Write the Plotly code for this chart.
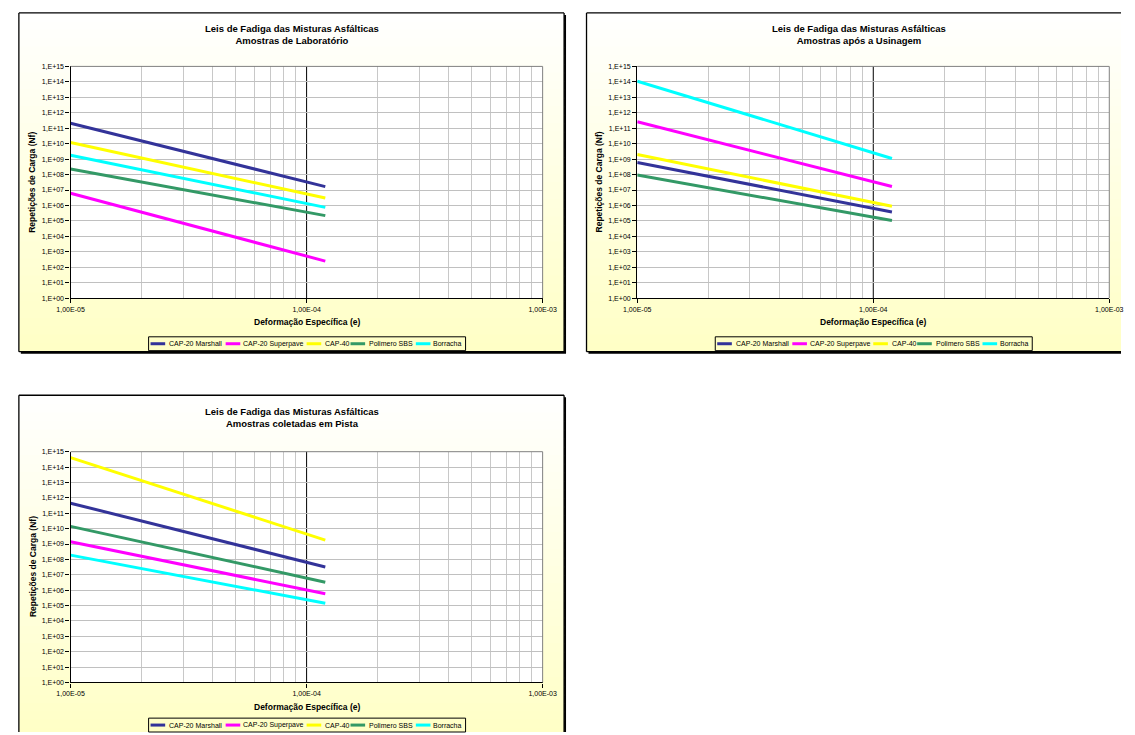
import plotly.graph_objects as go

# ---------------- data ----------------
strain = [1.0e-5, 1.2e-4]
series_names = ["CAP-20 Marshall", "CAP-20 Superpave", "CAP-40", "Polimero SBS", "Borracha"]
series_colors = ["#333399", "#FF00FF", "#FFFF00", "#339966", "#00FFFF"]

chart_titles = [
    "Leis de Fadiga das Misturas Asfálticas<br>Amostras de Laboratório",
    "Leis de Fadiga das Misturas Asfálticas<br>Amostras após a Usinagem",
    "Leis de Fadiga das Misturas Asfálticas<br>Amostras coletadas em Pista",
]
x_title = "Deformação Específica (e)"
y_title = "Repetições de Carga (Nf)"

# Nf at strain[0] and strain[1]
lab_marshall = [2.1e11, 1.66e7]
lab_superpave = [6.2e6, 2.5e2]
lab_cap40 = [1.2e10, 3.0e6]
lab_sbs = [2.3e8, 2.2e5]
lab_borracha = [1.8e9, 7.5e5]

usi_marshall = [6.0e8, 3.8e5]
usi_superpave = [2.6e11, 1.7e7]
usi_cap40 = [2.0e9, 8.8e5]
usi_sbs = [9.3e7, 1.07e5]
usi_borracha = [1.1e14, 1.1e9]

pista_marshall = [4.5e11, 3.2e7]
pista_superpave = [1.4e9, 5.8e5]
pista_cap40 = [4.1e14, 1.8e9]
pista_sbs = [1.4e10, 3.3e6]
pista_borracha = [1.9e8, 1.4e5]

y_tickvals = [1e0, 1e1, 1e2, 1e3, 1e4, 1e5, 1e6, 1e7, 1e8, 1e9, 1e10, 1e11, 1e12, 1e13, 1e14, 1e15]
y_ticktext = ["1,E+00", "1,E+01", "1,E+02", "1,E+03", "1,E+04", "1,E+05", "1,E+06", "1,E+07",
              "1,E+08", "1,E+09", "1,E+10", "1,E+11", "1,E+12", "1,E+13", "1,E+14", "1,E+15"]
x_tickvals = [1e-5, 1e-4, 1e-3]
x_ticktext = ["1,00E-05", "1,00E-04", "1,00E-03"]
x_minor = [m * 10.0 ** e for e in (-5, -4) for m in range(2, 10)]
x_major_grid = 1e-4

charts = [
    [lab_marshall, lab_superpave, lab_cap40, lab_sbs, lab_borracha],
    [usi_marshall, usi_superpave, usi_cap40, usi_sbs, usi_borracha],
    [pista_marshall, pista_superpave, pista_cap40, pista_sbs, pista_borracha],
]

# ---------------- layout geometry (pixels) ----------------
W, H = 1135, 735
FONT = "Liberation Sans"


def px(x):
    return min(max(x, 0), W) / W


def py(y):
    return 1 - min(max(y, 0), H) / H


frames = [(5, 9, 564, 351), (587, 9, 1150, 351), (5, 395, 564, 740)]
plots = [(58, 63, 542, 297), (639, 63, 1123, 297), (58, 452, 542, 685)]

fig = go.Figure()
shapes = []
annotations = []

for ci, (fx0, fy0, fx1, fy1) in enumerate(frames):
    # shadow (right / bottom)
    shapes.append(dict(type="rect", xref="paper", yref="paper", layer="below",
                       x0=px(fx0 + 2), x1=px(fx1 + 2), y0=py(fy1 + 2), y1=py(fy0 + 2),
                       fillcolor="#000000", line=dict(width=0)))
    # gradient background (white -> pale yellow)
    n = 40
    for k in range(n):
        ya = fy0 + (fy1 - fy0) * k / n
        yb = min(fy0 + (fy1 - fy0) * (k + 1) / n + 1.5, fy1)
        t = (k + 0.5) / n
        b = round(255 - 58 * t)
        shapes.append(dict(type="rect", xref="paper", yref="paper", layer="below",
                           x0=px(fx0), x1=px(fx1), y0=py(yb), y1=py(ya),
                           fillcolor=f"rgb(255,255,{b})", line=dict(width=0)))
    # frame border, only the edges that lie inside the page
    pts = [(fx0, fy1), (fx0, fy0), (fx1, fy0), (fx1, fy1), (fx0, fy1)]
    for (ax_, ay_), (bx_, by_) in zip(pts[:-1], pts[1:]):
        if (ax_ == bx_ and ax_ > W) or (ay_ == by_ and ay_ > H):
            continue
        shapes.append(dict(type="line", xref="paper", yref="paper", layer="below",
                           x0=px(ax_), x1=px(bx_), y0=py(ay_), y1=py(by_),
                           line=dict(color="#000000", width=1.3)))

for ci, (x0, y0, x1, y1) in enumerate(plots):
    shapes.append(dict(type="rect", xref="paper", yref="paper", layer="below",
                       x0=px(x0), x1=px(x1), y0=py(y1), y1=py(y0),
                       fillcolor="#FFFFFF", line=dict(width=0)))
    # grey top and right border of the plot area
    shapes.append(dict(type="path", xref="paper", yref="paper", layer="above",
                       path=f"M {px(x0)} {py(y0)} L {px(x1)} {py(y0)} L {px(x1)} {py(y1)}",
                       line=dict(color="#808080", width=1)))

title_pos = [(285, 31), (866, 31), (285, 417)]
xtitle_pos = [(300, 321), (881, 321), (300, 710)]
ytitle_pos = [(19, 180), (600, 180), (19, 568)]
legend_pos = [(138, 336), (719, 336), (138, 721)]   # legend box top-left
legend_w, legend_h = 325, 14
legend_line_dx = [2, 79, 162, 207, 274]     # start of sample line inside box
legend_text_dx = [19, 95, 179, 224, 290]    # start of label inside box

for ci, data in enumerate(charts):
    xa = "x" if ci == 0 else f"x{ci + 1}"
    ya = "y" if ci == 0 else f"y{ci + 1}"
    for si, vals in enumerate(data):
        fig.add_trace(go.Scatter(
            x=strain, y=vals, mode="lines", name=series_names[si],
            line=dict(color=series_colors[si], width=3),
            xaxis=xa, yaxis=ya, showlegend=False,
        ))
    x0, y0, x1, y1 = plots[ci]
    axkey = "xaxis" if ci == 0 else f"xaxis{ci + 1}"
    aykey = "yaxis" if ci == 0 else f"yaxis{ci + 1}"
    fig.layout[axkey] = dict(
        type="log", range=[-5, -3], domain=[px(x0), px(x1)], anchor=ya,
        tickvals=x_tickvals, ticktext=x_ticktext, ticks="outside", ticklen=4,
        tickcolor="#000000", showline=True, linecolor="#000000", linewidth=1.3,
        showgrid=False,
        minor=dict(tickvals=x_minor, showgrid=True, gridcolor="#C8C8C8", gridwidth=1, ticks=""),
        tickfont=dict(family=FONT, size=7, color="#000000"), zeroline=False, fixedrange=True,
    )
    fig.layout[aykey] = dict(
        type="log", range=[0, 15], domain=[py(y1), py(y0)], anchor=xa,
        tickvals=y_tickvals, ticktext=y_ticktext, ticks="outside", ticklen=4,
        tickcolor="#000000", showline=True, linecolor="#000000", linewidth=1.3,
        showgrid=True, gridcolor="#C0C0C0", gridwidth=1,
        tickfont=dict(family=FONT, size=7, color="#000000"), zeroline=False, fixedrange=True,
    )
    # major vertical gridline (1,00E-04) in black
    shapes.append(dict(type="line", xref=xa, yref="paper", layer="between",
                       x0=x_major_grid, x1=x_major_grid, y0=py(y1), y1=py(y0),
                       line=dict(color="#000000", width=1)))

    # legend (box, sample lines, labels)
    lx, ly = legend_pos[ci]
    shapes.append(dict(type="rect", xref="paper", yref="paper", layer="above",
                       x0=px(lx), x1=px(lx + legend_w), y0=py(ly + legend_h), y1=py(ly),
                       fillcolor="rgba(0,0,0,0)", line=dict(color="#000000", width=1)))
    for si in range(len(series_names)):
        sx = lx + legend_line_dx[si]
        shapes.append(dict(type="line", xref="paper", yref="paper", layer="above",
                           x0=px(sx), x1=px(sx + 15), y0=py(ly + legend_h / 2), y1=py(ly + legend_h / 2),
                           line=dict(color=series_colors[si], width=3)))
        annotations.append(dict(text=series_names[si], x=px(lx + legend_text_dx[si]), y=py(ly + legend_h / 2),
                                xref="paper", yref="paper", showarrow=False,
                                xanchor="left", yanchor="middle",
                                font=dict(family=FONT, size=7, color="#000000")))

    tx, ty = title_pos[ci]
    annotations.append(dict(text=f"<b>{chart_titles[ci]}</b>", x=px(tx), y=py(ty),
                            xref="paper", yref="paper", showarrow=False,
                            xanchor="center", yanchor="middle",
                            font=dict(family=FONT, size=9.5, color="#000000")))
    xx, xy = xtitle_pos[ci]
    annotations.append(dict(text=f"<b>{x_title}</b>", x=px(xx), y=py(xy),
                            xref="paper", yref="paper", showarrow=False,
                            xanchor="center", yanchor="middle",
                            font=dict(family=FONT, size=8.5, color="#000000")))
    yx, yy = ytitle_pos[ci]
    annotations.append(dict(text=f"<b>{y_title}</b>", x=px(yx), y=py(yy), textangle=-90,
                            xref="paper", yref="paper", showarrow=False,
                            xanchor="center", yanchor="middle",
                            font=dict(family=FONT, size=8.5, color="#000000")))

fig.update_layout(
    width=W, height=H, margin=dict(l=0, r=0, t=0, b=0),
    paper_bgcolor="#FFFFFF", plot_bgcolor="#FFFFFF",
    shapes=shapes, annotations=annotations, showlegend=False,
)

fig.write_html("out.html", config={"displayModeBar": False, "responsive": False},
               post_script="document.body.style.margin='0';document.body.style.overflow='hidden';")
